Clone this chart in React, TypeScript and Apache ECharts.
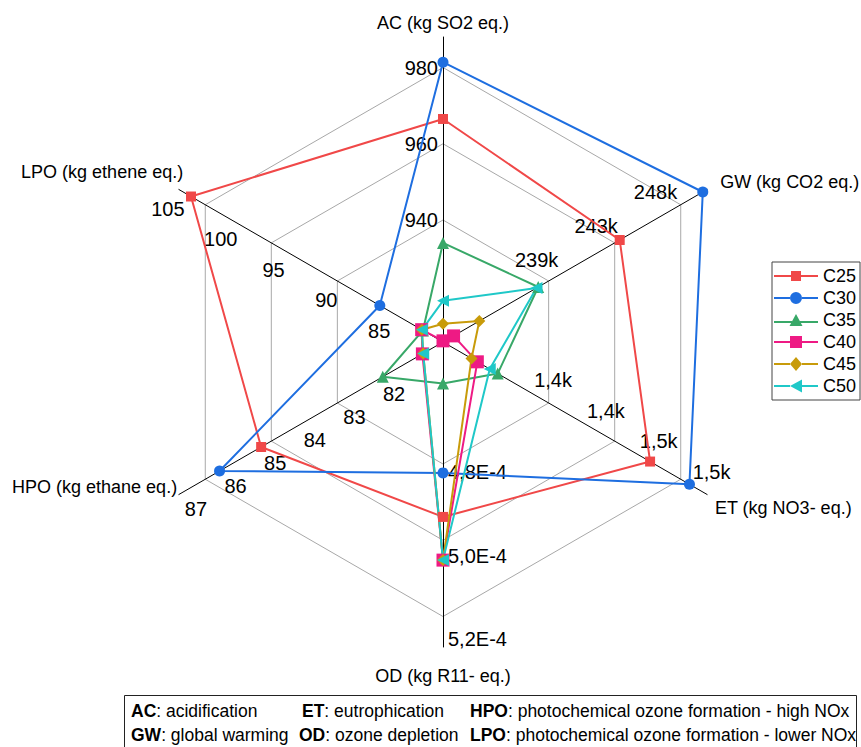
import React, { useEffect, useRef } from 'react';
import * as echarts from 'echarts';

const FONT = "'Liberation Sans', Arial, sans-serif";

// Axes, counter-clockwise from the top
const indicatorNames = ['AC (kg SO2 eq.)', 'LPO (kg ethene eq.)', 'HPO (kg ethane eq.)', 'OD (kg R11- eq.)', 'ET (kg NO3- eq.)', 'GW (kg CO2 eq.)'];
const SPLIT = 40;
const odStep = 2e-5 / 11;
const axisMin = [908, 80, 80.5, 4.8e-4 - 17 * odStep, 1382.5, 230500];
const axisMax = [988, 105, 80.5 + 40 / 6, 4.8e-4 + 23 * odStep, 1482.5, 250500];

// Tick labels shown on each axis
const acTicks = [940, 960, 980];
const lpoTicks = [85, 90, 95, 100, 105];
const hpoTicks = [82, 83, 84, 85, 86, 87];
const odTicks = [4.8e-4, 5.0e-4, 5.2e-4];
const etTicks = [1420, 1440, 1460, 1480];
const gwTicks = [238500, 243000, 247500];

// Series (order: AC, LPO, HPO, OD, ET, GW)
const seriesNames = ['C25', 'C30', 'C35', 'C40', 'C45', 'C50'];
const c25 = [966.5, 103.85, 85.09, 4.908e-4, 1460.9, 243880];
const c30 = [981.4, 85.98, 86.14, 4.803e-4, 1475.8, 250170];
const c35 = [934.0, 81.9, 82.02, 4.59e-4, 1403.2, 237710];
const c40 = [908.3, 82.02, 81.02, 5.011e-4, 1395.5, 231300];
const c45 = [912.8, 82.0, 81.0, 5.011e-4, 1393.3, 233250];
const c50 = [918.8, 82.0, 81.0, 5.011e-4, 1400.2, 237580];
const seriesValues = [c25, c30, c35, c40, c45, c50];

// Styles
const colors = ['#F04848', '#1E6EE0', '#38A868', '#EE1A84', '#C89B0A', '#1FC8C8'];
const symbols = ['rect', 'circle', 'triangle', 'rect', 'diamond', 'triangle'];
const symbolSizes = [10, 11, 12, 13, 12, 12];
const symbolRotates = [0, 0, 0, 0, 0, 90];
const legendIcons = [
  'path://M0,6h17v2H0z M17,2h10v10H17z M27,6h17v2H27z',
  'path://M0,6h16v2H0z M16,7a6,6 0 1,0 12,0a6,6 0 1,0 -12,0z M28,6h16v2H28z',
  'path://M0,8h18v2H0z M22,1L28.5,13L15.5,13z M26,8h18v2H26z',
  'path://M0,6h16v2H0z M16,1h12v12H16z M28,6h16v2H28z',
  'path://M0,6h16v2H0z M22,0L28,7L22,14L16,7z M28,6h16v2H28z',
  'path://M0,6h16v2H0z M16,7L28,0.5L28,13.5z M28,6h16v2H28z',
];
const ringIdx = [16, 26, 36];

const tickLists = [acTicks, lpoTicks, hpoTicks, odTicks, etTicks, gwTicks];
const tickFormats: ((t: number) => string)[] = [
  (t) => String(t),
  (t) => String(t),
  (t) => String(t),
  (t) => (t * 1e4).toFixed(1).replace('.', ',') + 'E-4',
  (t) => (t / 1000).toFixed(1).replace('.', ',') + 'k',
  (t) => Math.round(t / 1000) + 'k',
];
const labelLayout = [
  { margin: 5 },
  { margin: 22, align: 'center', verticalAlign: 'middle' },
  { margin: 21, align: 'center', verticalAlign: 'middle' },
  { margin: 5 },
  { margin: 22, align: 'center', verticalAlign: 'middle' },
  { margin: 24, align: 'center', verticalAlign: 'middle' },
];
const nameLayout = [
  { nameGap: 5, style: {} },
  { nameGap: -5, style: { align: 'right', verticalAlign: 'bottom', padding: [0, 0, 11, 0] } },
  { nameGap: 2, style: { align: 'right', verticalAlign: 'bottom' } },
  { nameGap: 20, style: {} },
  { nameGap: 9, style: { align: 'left', verticalAlign: 'top' } },
  { nameGap: 15, style: {} },
];

const noteRows = [
  [
    { x: 131, text: '{b|AC}: acidification' },
    { x: 302, text: '{b|ET}: eutrophication' },
    { x: 470, text: '{b|HPO}: photochemical ozone formation - high NOx' },
  ],
  [
    { x: 131, text: '{b|GW}: global warming' },
    { x: 299, text: '{b|OD}: ozone depletion' },
    { x: 470, text: '{b|LPO}: photochemical ozone formation - lower NOx' },
  ],
];
const noteRowY = [711, 735];

export default function App() {
  const ref = useRef<HTMLDivElement>(null);
  useEffect(() => {
    if (!ref.current) return;
    const chart = echarts.init(ref.current, undefined, { renderer: 'svg' });

    const indicator = indicatorNames.map((name, i) => {
      const step = (axisMax[i] - axisMin[i]) / SPLIT;
      const ticks = tickLists[i];
      const fmt = tickFormats[i];
      return {
        name,
        min: axisMin[i],
        max: axisMax[i],
        nameGap: nameLayout[i].nameGap,
        nameTextStyle: { ...nameLayout[i].style },
        axisLabel: {
          show: true,
          showMinLabel: true,
          showMaxLabel: true,
          fontSize: 20,
          fontFamily: FONT,
          color: '#000',
          ...labelLayout[i],
          formatter: (v: number) => {
            const t = ticks.find((tk) => Math.abs(tk - v) < step * 0.3);
            return t === undefined ? '' : fmt(t);
          },
        },
      };
    });

    const ringColors = Array.from({ length: SPLIT + 1 }, (_, i) => (ringIdx.includes(i) ? '#a8a8a8' : 'rgba(0,0,0,0)'));

    const graphics: any[] = [
      {
        type: 'rect',
        shape: { x: 124.5, y: 695.5, width: 732, height: 60 },
        style: { fill: '#fff', stroke: '#222', lineWidth: 1 },
        z: 10,
      },
    ];
    noteRows.forEach((row, r) => {
      row.forEach((cell) => {
        graphics.push({
          type: 'text',
          x: cell.x,
          y: noteRowY[r],
          z: 11,
          style: {
            text: cell.text,
            fontSize: 17.5,
            fontFamily: FONT,
            fill: '#000',
            verticalAlign: 'middle',
            rich: { b: { fontWeight: 'bold', fontSize: 17.5, fontFamily: FONT } },
          },
        });
      });
    });

    chart.setOption({
      animation: false,
      backgroundColor: '#fff',
      legend: {
        orient: 'vertical',
        left: 772,
        top: 262,
        padding: [5, 4, 5, 2],
        itemGap: 4,
        itemWidth: 44,
        itemHeight: 14,
        borderColor: '#444',
        borderWidth: 1,
        backgroundColor: '#fff',
        textStyle: { fontSize: 18, fontFamily: FONT, color: '#000' },
        data: seriesNames.map((n, i) => ({ name: n, icon: legendIcons[i] })),
      },
      radar: {
        center: [443, 342],
        radius: 305,
        startAngle: 90,
        splitNumber: SPLIT,
        shape: 'polygon',
        axisName: { color: '#000', fontSize: 18, fontFamily: FONT },
        axisLine: { show: true, lineStyle: { color: '#000', width: 1 } },
        axisTick: { show: false },
        axisLabel: { show: false },
        splitLine: { show: true, lineStyle: { color: ringColors, width: 1 } },
        splitArea: { show: false },
        indicator,
      },
      series: seriesNames.map((n, i) => ({
        type: 'radar',
        name: n,
        symbol: symbols[i],
        symbolSize: symbolSizes[i],
        symbolRotate: symbolRotates[i],
        lineStyle: { color: colors[i], width: 2 },
        itemStyle: { color: colors[i] },
        data: [{ name: n, value: seriesValues[i] }],
      })),
      graphic: graphics,
    });
    return () => chart.dispose();
  }, []);
  return <div ref={ref} style={{ position: 'fixed', left: 0, top: 0, width: 861, height: 747, background: '#fff' }} />;
}
